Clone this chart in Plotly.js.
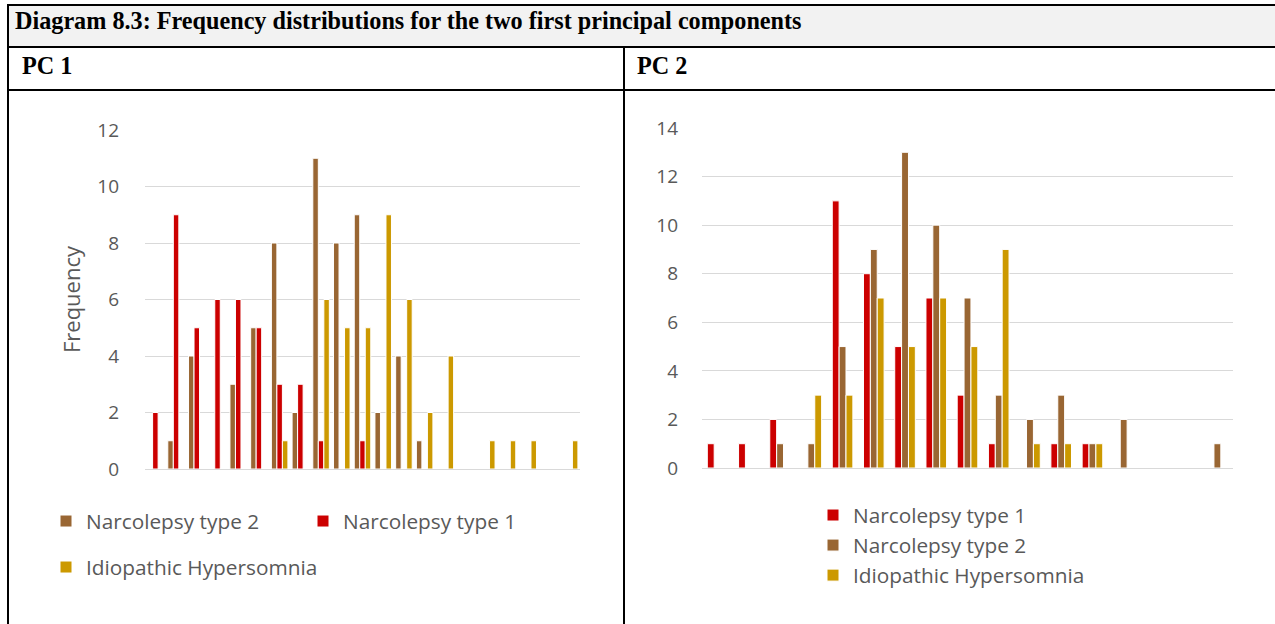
<!DOCTYPE html>
<html>
<head>
<meta charset="utf-8">
<script src="https://cdn.plot.ly/plotly-3.0.1.min.js"></script>
<style>
  html, body { margin: 0; padding: 0; background: #fff; }
  #chart { width: 1275px; height: 624px; }
</style>
</head>
<body>
<div id="chart"></div>
<script>
// Data (frequency per bin)
const pc1Bins = [1, 2, 3, 4, 5, 6, 7, 8, 9, 10, 11, 12, 13, 14, 15, 16, 17, 18, 19, 20, 21];
const pc1Nt2 = [0, 1, 4, 0, 3, 5, 8, 2, 11, 8, 9, 2, 4, 1, 0, 0, 0, 0, 0, 0, 0];
const pc1Nt1 = [2, 9, 5, 6, 6, 5, 3, 3, 1, 0, 1, 0, 0, 0, 0, 0, 0, 0, 0, 0, 0];
const pc1Ih = [0, 0, 0, 0, 0, 0, 1, 0, 6, 5, 5, 9, 6, 2, 4, 0, 1, 1, 1, 0, 1];

const pc2Bins = [1, 2, 3, 4, 5, 6, 7, 8, 9, 10, 11, 12, 13, 14, 15, 16, 17];
const pc2Nt1 = [1, 1, 2, 0, 11, 8, 5, 7, 3, 1, 0, 1, 1, 0, 0, 0, 0];
const pc2Nt2 = [0, 0, 1, 1, 5, 9, 13, 10, 7, 3, 2, 3, 1, 2, 0, 0, 1];
const pc2Ih = [0, 0, 0, 3, 3, 7, 5, 7, 5, 9, 1, 1, 1, 0, 0, 0, 0];

const seriesNames = ['Narcolepsy type 1', 'Narcolepsy type 2', 'Idiopathic Hypersomnia'];
const yTicks1 = [0, 2, 4, 6, 8, 10, 12];
const yTicks2 = [0, 2, 4, 6, 8, 10, 12, 14];

const W = 1275, H = 624;
const RED = '#cc0000', BROWN = '#996633', GOLD = '#cc9900';
const GRID = '#d9d9d9', TEXT = '#595959';
const px = x => x / W;
const py = y => 1 - y / H;

function bar(x, y, name, color, xa, ya, width, offset, legend) {
    return {
        type: 'bar', x: x, y: y, name: name,
        xaxis: xa, yaxis: ya, width: width, offset: offset,
        legend: legend,
        marker: { color: color, line: { color: '#ffffff', width: 1 } },
        hoverinfo: 'y+name'
    };
}

const w1 = 0.266, w2 = 0.22;
const data = [
    // PC 1: brown, red, gold
    bar(pc1Bins, pc1Nt2, seriesNames[1], BROWN, 'x', 'y', w1, -1.5 * w1, 'legend'),
    bar(pc1Bins, pc1Nt1, seriesNames[0], RED, 'x', 'y', w1, -0.5 * w1, 'legend'),
    bar(pc1Bins, pc1Ih, seriesNames[2], GOLD, 'x', 'y', w1, 0.5 * w1, 'legend3'),
    // PC 2: red, brown, gold
    bar(pc2Bins, pc2Nt1, seriesNames[0], RED, 'x2', 'y2', w2, -1.5 * w2, 'legend2'),
    bar(pc2Bins, pc2Nt2, seriesNames[1], BROWN, 'x2', 'y2', w2, -0.5 * w2, 'legend2'),
    bar(pc2Bins, pc2Ih, seriesNames[2], GOLD, 'x2', 'y2', w2, 0.5 * w2, 'legend2')
];

const tickFont = { family: 'Open Sans, sans-serif', size: 19, color: TEXT };
const legendFont = { family: 'Open Sans, sans-serif', size: 20.8, color: TEXT };
const serif = { family: 'Liberation Serif, serif', size: 24.2, color: '#000' };

function xAxis(domain, n, anchor) {
    return {
        domain: domain, range: [0.5, n + 0.5], anchor: anchor,
        showticklabels: false, ticks: '', showgrid: false, zeroline: false,
        showline: true, linecolor: GRID, linewidth: 1, fixedrange: true
    };
}
function yAxis(domain, top, ticks, anchor, standoff) {
    return {
        domain: domain, range: [0, top], anchor: anchor,
        tickvals: ticks, ticks: '', tickfont: tickFont,
        showgrid: true, gridcolor: GRID, gridwidth: 1,
        zeroline: false, showline: false, ticklabelstandoff: standoff, fixedrange: true
    };
}

const layout = {
    width: W, height: H,
    margin: { l: 0, r: 0, t: 0, b: 0 },
    paper_bgcolor: '#ffffff', plot_bgcolor: '#ffffff',
    barmode: 'overlay',
    font: { family: 'Open Sans, sans-serif', color: TEXT },
    xaxis: xAxis([px(145), px(580)], pc1Bins.length, 'y'),
    yaxis: Object.assign(yAxis([py(469), py(130)], 12, yTicks1, 'x', 25), {
        title: { text: 'Frequency', font: { family: 'Open Sans, sans-serif', size: 22, color: TEXT }, standoff: 10 }
    }),
    xaxis2: xAxis([px(702), px(1233)], pc2Bins.length, 'y2'),
    yaxis2: yAxis([py(468), py(128)], 14, yTicks2, 'x2', 23),
    legend: {
        orientation: 'h', x: px(46), y: py(501), xanchor: 'left', yanchor: 'top',
        font: legendFont, entrywidth: 212, bgcolor: 'rgba(0,0,0,0)'
    },
    legend3: {
        orientation: 'h', x: px(46), y: py(547), xanchor: 'left', yanchor: 'top',
        font: legendFont, bgcolor: 'rgba(0,0,0,0)'
    },
    legend2: {
        orientation: 'v', x: px(813), y: py(495), xanchor: 'left', yanchor: 'top',
        font: legendFont, tracegroupgap: 0, bgcolor: 'rgba(0,0,0,0)'
    },
    shapes: [
        { type: 'rect', xref: 'paper', yref: 'paper', x0: px(8), x1: px(1275), y0: py(5), y1: py(47),
          fillcolor: '#f2f2f2', line: { width: 0 }, layer: 'below' },
        { type: 'line', xref: 'paper', yref: 'paper', x0: px(7), x1: px(1275), y0: py(5), y1: py(5), line: { color: '#000', width: 2 } },
        { type: 'line', xref: 'paper', yref: 'paper', x0: px(7), x1: px(1275), y0: py(47), y1: py(47), line: { color: '#000', width: 2 } },
        { type: 'line', xref: 'paper', yref: 'paper', x0: px(7), x1: px(1275), y0: py(90), y1: py(90), line: { color: '#000', width: 2 } },
        { type: 'line', xref: 'paper', yref: 'paper', x0: px(8), x1: px(8), y0: py(4), y1: py(624), line: { color: '#000', width: 2 } },
        { type: 'line', xref: 'paper', yref: 'paper', x0: px(624), x1: px(624), y0: py(47), y1: py(624), line: { color: '#000', width: 2 } }
    ],
    annotations: [
        { xref: 'paper', yref: 'paper', x: px(13), y: py(21), xanchor: 'left', yanchor: 'middle', showarrow: false,
          text: '<b>Diagram 8.3: Frequency distributions for the two first principal components</b>', font: serif },
        { xref: 'paper', yref: 'paper', x: px(20), y: py(66), xanchor: 'left', yanchor: 'middle', showarrow: false,
          text: '<b>PC 1</b>', font: serif },
        { xref: 'paper', yref: 'paper', x: px(635), y: py(66), xanchor: 'left', yanchor: 'middle', showarrow: false,
          text: '<b>PC 2</b>', font: serif }
    ],
    showlegend: true
};

Plotly.newPlot('chart', data, layout, { displayModeBar: false, staticPlot: true });
</script>
</body>
</html>
